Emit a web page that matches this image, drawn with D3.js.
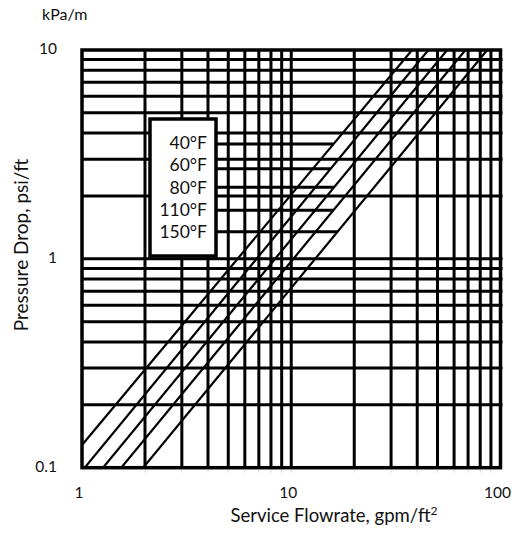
<!DOCTYPE html>
<html>
<head>
<meta charset="utf-8">
<script src="https://cdn.jsdelivr.net/npm/d3@7"></script>
<style>
  body { margin: 0; background: #fff; }
  text { font-family: Lato, "Open Sans", sans-serif; fill: #111; }
</style>
</head>
<body>
<div id="chart"></div>
<script>
// legend labels, one per curve
var temps = ["40°F", "60°F", "80°F", "110°F", "150°F"];
// each curve is straight on log-log, read at its two edge crossings [gpm/ft2, psi/ft]
var curve40 = [[1, 0.1285], [37.8, 10]];
var curve60 = [[1.03, 0.1], [45.2, 10]];
var curve80 = [[1.26, 0.1], [55.6, 10]];
var curve110 = [[1.54, 0.1], [68.0, 10]];
var curve150 = [[1.96, 0.1], [86.4, 10]];
var curves = [curve40, curve60, curve80, curve110, curve150];
// pressure level where each legend leader meets its curve
var leaderLevels = [3.55, 2.7, 2.2, 1.71, 1.35];

var flowTicks = [1, 10, 100];
var flowTickLabels = ["1", "10", "100"];
var dropTicks = [0.1, 1, 10];
var dropTickLabels = ["0.1", "1", "10"];
var flowGrid = [2, 3, 4, 5, 6, 7, 8, 9, 10, 20, 30, 40, 50, 60, 70, 80, 90];
var dropGrid = [0.2, 0.3, 0.4, 0.5, 0.6, 0.7, 0.8, 0.9, 1, 2, 3, 4, 5, 6, 7, 8, 9];

var width = 525, height = 542;
var plotL = 82, plotR = 500.5, plotT = 50, plotB = 467.7;

var svg = d3.select("#chart").append("svg")
  .attr("width", width).attr("height", height);

var x = d3.scaleLog().domain([1, 100]).range([plotL, plotR]);
var y = d3.scaleLog().domain([0.1, 10]).range([plotB, plotT]);

svg.append("clipPath").attr("id", "plot")
  .append("rect").attr("x", plotL).attr("y", plotT)
  .attr("width", plotR - plotL).attr("height", plotB - plotT);

// faint little ticks under the bottom edge
svg.append("g").selectAll("line").data(flowGrid).enter().append("line")
  .attr("x1", function (d) { return x(d); }).attr("x2", function (d) { return x(d); })
  .attr("y1", plotB + 2).attr("y2", plotB + 5)
  .attr("stroke", "#d8d8d8").attr("stroke-width", 1);

// grid
svg.append("g").selectAll("line").data(flowGrid).enter().append("line")
  .attr("x1", function (d) { return x(d); }).attr("x2", function (d) { return x(d); })
  .attr("y1", plotT).attr("y2", plotB)
  .attr("stroke", "#000").attr("stroke-width", 3);
svg.append("g").selectAll("line").data(dropGrid).enter().append("line")
  .attr("x1", plotL).attr("x2", plotR + 2)
  .attr("y1", function (d) { return y(d); }).attr("y2", function (d) { return y(d); })
  .attr("stroke", "#000").attr("stroke-width", 3);

// curves
var line = d3.line().x(function (d) { return x(d[0]); }).y(function (d) { return y(d[1]); });
svg.append("g").attr("clip-path", "url(#plot)")
  .selectAll("path").data(curves).enter().append("path")
  .attr("d", line).attr("fill", "none")
  .attr("stroke", "#000").attr("stroke-width", 2.2);

// flow where a curve reaches a given pressure drop (log-log interpolation)
function flowAt(c, dp) {
  var t = (Math.log(dp) - Math.log(c[0][1])) / (Math.log(c[1][1]) - Math.log(c[0][1]));
  return Math.exp(Math.log(c[0][0]) + t * (Math.log(c[1][0]) - Math.log(c[0][0])));
}

// legend box + leaders
var boxX = 150, boxY = 119, boxW = 66, boxH = 137;
svg.append("g").selectAll("line").data(leaderLevels).enter().append("line")
  .attr("x1", boxX + boxW).attr("x2", function (d, i) { return x(flowAt(curves[i], d)); })
  .attr("y1", function (d) { return y(d); }).attr("y2", function (d) { return y(d); })
  .attr("stroke", "#000").attr("stroke-width", 3);
svg.append("rect").attr("x", boxX).attr("y", boxY).attr("width", boxW).attr("height", boxH)
  .attr("fill", "#fff").attr("stroke", "#000").attr("stroke-width", 3.5);
svg.append("g").selectAll("text").data(temps).enter().append("text")
  .attr("x", boxX + boxW - 9)
  .attr("y", function (d, i) { return 143 + i * 22.2; })
  .attr("dy", "0.35em").attr("text-anchor", "end")
  .style("font-size", "17.5px").text(function (d) { return d; });

// frame
svg.append("rect").attr("x", plotL).attr("y", plotT)
  .attr("width", plotR - plotL).attr("height", plotB - plotT)
  .attr("fill", "none").attr("stroke", "#000").attr("stroke-width", 3.5);

// tick labels
svg.append("g").selectAll("text").data(flowTicks).enter().append("text")
  .attr("x", function (d) { return x(d) - 3; }).attr("y", 493)
  .attr("dy", "0.35em").attr("text-anchor", "middle")
  .style("font-size", "15.5px").text(function (d, i) { return flowTickLabels[i]; });
svg.append("g").selectAll("text").data(dropTicks).enter().append("text")
  .attr("x", 57).attr("y", function (d) { return y(d) - 1.5; })
  .attr("dy", "0.35em").attr("text-anchor", "end")
  .style("font-size", "15.5px").text(function (d, i) { return dropTickLabels[i]; });

// titles
svg.append("text").attr("x", 334).attr("y", 522).attr("text-anchor", "middle")
  .style("font-size", "18.5px")
  .html('Service Flowrate, gpm/ft<tspan dy="-7" font-size="12px">2</tspan>');
svg.append("text").attr("x", 42).attr("y", 20)
  .style("font-size", "16px").text("kPa/m");
svg.append("text").attr("transform", "translate(28,245) rotate(-90)")
  .attr("text-anchor", "middle").style("font-size", "19px")
  .text("Pressure Drop, psi/ft");
</script>
</body>
</html>
